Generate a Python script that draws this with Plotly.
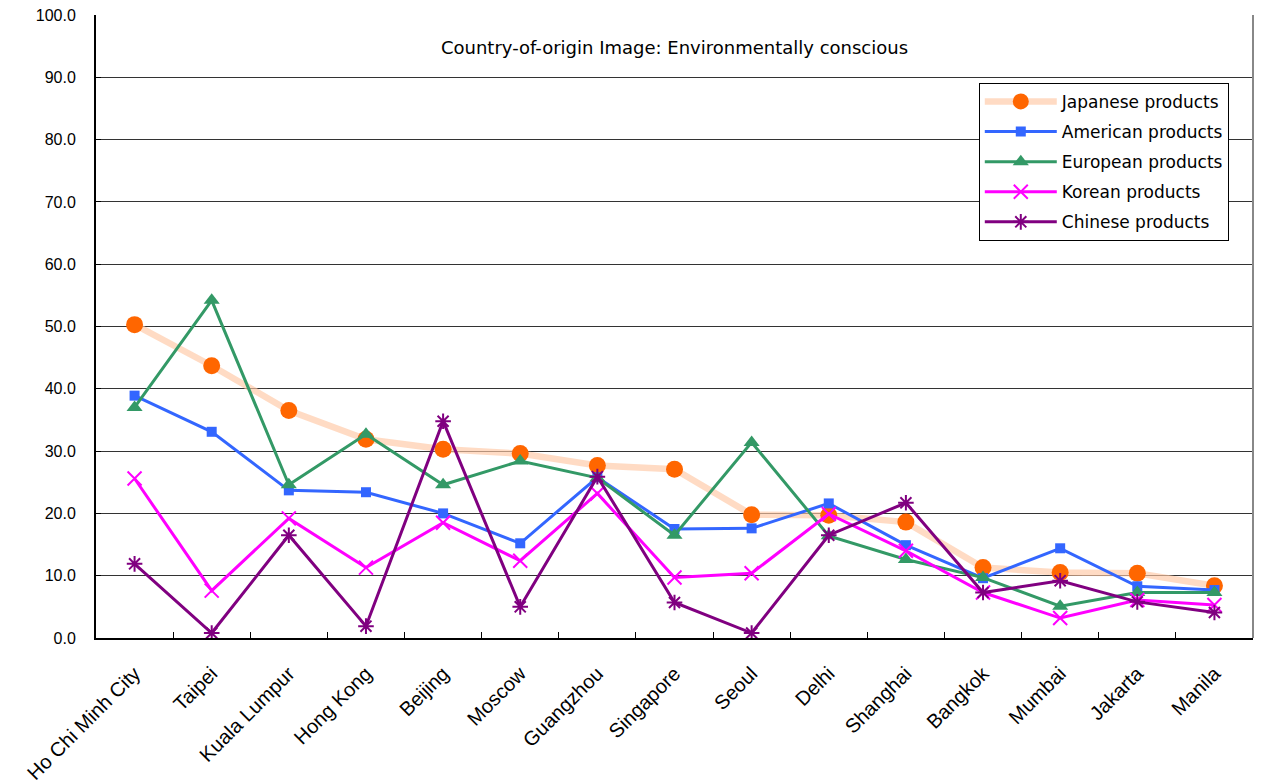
import plotly.graph_objects as go

cities = ["Ho Chi Minh City", "Taipei", "Kuala Lumpur", "Hong Kong", "Beijing", "Moscow",
          "Guangzhou", "Singapore", "Seoul", "Delhi", "Shanghai", "Bangkok", "Mumbai",
          "Jakarta", "Manila"]

japanese = [50.3, 43.7, 36.5, 31.9, 30.3, 29.6, 27.7, 27.1, 19.8, 19.7, 18.6, 11.3, 10.5, 10.4, 8.4]
american = [38.9, 33.1, 23.7, 23.4, 20.0, 15.2, 25.8, 17.5, 17.6, 21.6, 14.9, 9.6, 14.4, 8.3, 7.7]
european = [37.0, 54.2, 24.6, 32.7, 24.6, 28.4, 25.7, 16.5, 31.4, 16.4, 12.6, 9.7, 5.1, 7.3, 7.3]
korean = [25.6, 7.6, 19.2, 11.3, 18.5, 12.4, 23.2, 9.7, 10.4, 19.9, 14.0, 7.3, 3.2, 6.1, 5.3]
chinese = [11.9, 0.8, 16.5, 1.9, 34.8, 5.0, 25.9, 5.7, 0.8, 16.5, 21.7, 7.3, 9.2, 5.8, 4.1]

y_ticks = [0, 10, 20, 30, 40, 50, 60, 70, 80, 90, 100]

AXIS_FONT = "Liberation Sans"
TEXT_FONT = "DejaVu Sans"

fig = go.Figure()

fig.add_trace(go.Scatter(
    x=cities, y=japanese, name="Japanese products", mode="lines+markers",
    line=dict(color="rgba(255,200,165,0.65)", width=6.5),
    marker=dict(symbol="circle", size=17, color="#FF6600"),
    legendgroup="jp",
))
fig.add_trace(go.Scatter(
    x=cities, y=american, name="American products", mode="lines+markers",
    line=dict(color="#3366FF", width=3),
    marker=dict(symbol="square", size=10, color="#3366FF"),
    legendgroup="us",
))
fig.add_trace(go.Scatter(
    x=cities, y=european, name="European products", mode="lines+markers",
    line=dict(color="#339966", width=3),
    marker=dict(symbol="triangle-up", size=14, color="#339966"),
    legendgroup="eu",
))
fig.add_trace(go.Scatter(
    x=cities, y=korean, name="Korean products", mode="lines+markers",
    line=dict(color="#FF00FF", width=3),
    marker=dict(symbol="x-thin", size=14, color="#FF00FF",
                line=dict(color="#FF00FF", width=2)),
    legendgroup="kr",
))
fig.add_trace(go.Scatter(
    x=cities, y=chinese, name="Chinese products", mode="lines+markers",
    line=dict(color="#800080", width=3),
    marker=dict(symbol="asterisk", size=13, color="#800080",
                line=dict(color="#800080", width=2)),
    legendgroup="cn",
))

fig.update_layout(
    width=1262, height=783,
    margin=dict(l=96, r=9, t=15, b=145),
    paper_bgcolor="white", plot_bgcolor="white",
    font=dict(family=AXIS_FONT, size=16, color="black"),
    title=dict(text="Country-of-origin Image: Environmentally conscious",
               x=0.5, xref="paper", y=0.948, yref="paper",
               xanchor="center", yanchor="middle",
               font=dict(family=TEXT_FONT, size=18, color="black")),
    legend=dict(x=0.763, y=0.891, xanchor="left", yanchor="top",
                xref="paper", yref="paper",
                bgcolor="white", bordercolor="black", borderwidth=1,
                font=dict(family=TEXT_FONT, size=17),
                itemwidth=72,
                traceorder="grouped", tracegroupgap=5),
    showlegend=True,
)

fig.update_xaxes(
    type="category", range=[-0.5, 14.5], automargin=False,
    showline=True, linecolor="black", linewidth=2,
    ticks="inside", tickson="boundaries", ticklen=6, tickcolor="black",
    tickangle=-45, showgrid=False, ticklabelstandoff=14,
    tickfont=dict(family=AXIS_FONT, size=20),
)
fig.update_yaxes(
    range=[0, 100], tickvals=y_ticks, tickformat=".1f", automargin=False,
    showline=True, linecolor="black", linewidth=2,
    ticks="inside", ticklen=5, tickcolor="black",
    showgrid=True, gridcolor="#333333", gridwidth=1,
    zeroline=False, ticklabelstandoff=15,
    tickfont=dict(family=AXIS_FONT, size=16),
)

# right-hand frame edge
fig.add_shape(type="line", xref="paper", yref="paper", x0=1, x1=1, y0=0, y1=1,
              line=dict(color="#888888", width=2))

fig.write_html("out.html")
